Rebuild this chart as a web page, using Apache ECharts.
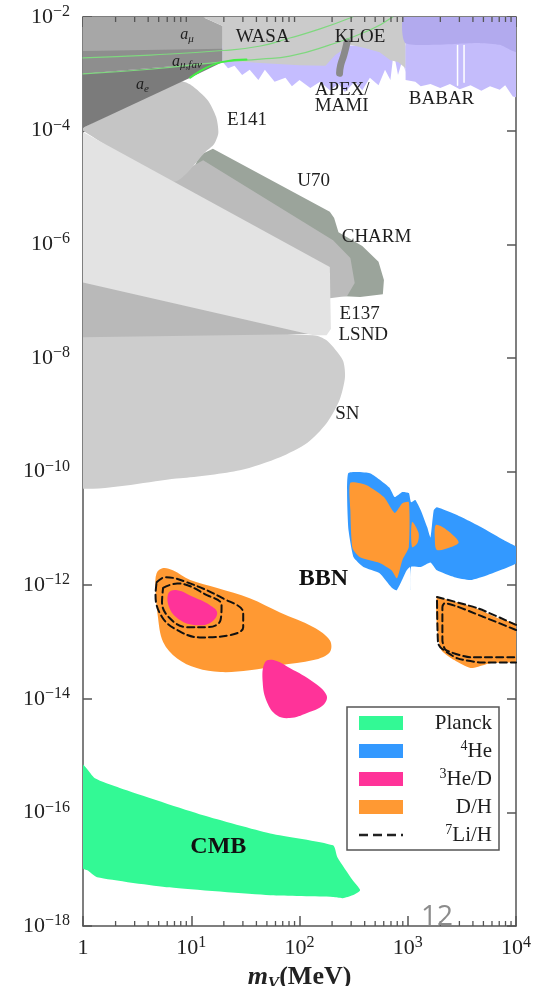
<!DOCTYPE html>
<html><head><meta charset="utf-8">
<script src="https://cdn.jsdelivr.net/npm/echarts@6/dist/echarts.min.js"></script>
<style>html,body{margin:0;padding:0;background:#fff}#c{width:533px;height:986px}</style>
</head><body><div id="c"></div>
<script>
// All shapes as [log10(m_V / MeV), log10(epsilon)]
const aMuRegion   = [[0,-1.9],[0.99,-1.9],[1.29,-2.16],[1.29,-2.58],[0,-2.62]];
const aMuFavBand  = [[0,-2.6],[1.29,-2.56],[1.29,-2.79],[0,-3.0]];
const aeRegion    = [[0,-3.0],[1.29,-2.79],[0.99,-3.07],[0,-3.95]];
const e141Region  = [[0,-3.95],[0.9,-3.14],[1.0,-3.2],[1.15,-3.46],[1.23,-3.76],[1.25,-4.04],[1.21,-4.24],[1.14,-4.36],[0.83,-4.9],[0,-4.0]];
const u70Charm    = [[1.08,-4.43],[1.2,-4.32],[2.28,-5.43],[2.32,-5.54],[2.36,-5.79],[2.58,-6.03],[2.73,-6.31],[2.78,-6.63],[2.77,-6.88],[2.56,-6.93],[2.37,-6.91],[2.28,-6.5],[0.99,-4.8]];
const e141Band    = [[0.75,-4.9],[1.11,-4.52],[2.31,-5.93],[2.47,-6.24],[2.51,-6.68],[2.44,-6.91],[2.28,-6.95],[2.28,-6.5]];
const e137Lsnd    = [[-0.1,-3.92],[2.28,-6.4],[2.29,-7.49],[2.25,-7.6],[2.13,-7.6],[-0.1,-6.63]];
const lowWedge    = [[-0.1,-6.6],[2.13,-7.58],[-0.1,-7.64]];
const snRegion    = [[-0.2,-7.62],[2.13,-7.6],[2.25,-7.69],[2.4,-8.04],[2.42,-8.34],[2.37,-8.74],[2.25,-9.15],[2.07,-9.5],[1.82,-9.75],[1.45,-9.98],[0.9,-10.12],[-0.2,-10.19]];
const apexMami    = [[1.29,-2.5],[2.98,-2.5],[2.98,-2.97],[2.95,-2.76],[2.91,-3.02],[2.87,-2.62],[2.84,-3.11],[2.79,-2.93],[2.73,-3.2],[2.65,-3.07],[2.58,-3.29],[2.51,-3.14],[2.42,-3.32],[2.36,-3.18],[2.28,-3.29],[2.19,-3.14],[2.1,-3.25],[2.0,-3.11],[1.93,-3.22],[1.87,-3.07],[1.77,-3.14],[1.68,-2.93],[1.62,-3.11],[1.54,-2.93],[1.47,-3.02],[1.4,-2.86],[1.34,-2.9],[1.29,-2.79]];
const wasaKloe    = [[0.99,-1.9],[2.98,-1.9],[2.98,-2.9],[2.91,-2.79],[2.84,-2.76],[2.74,-2.62],[2.61,-2.55],[2.47,-2.49],[2.33,-2.67],[2.24,-2.86],[2.0,-2.85],[1.64,-2.81],[1.29,-2.76],[1.29,-2.16]];
const babarLight  = [[2.98,-1.9],[4.1,-1.9],[4.1,-3.46],[3.97,-3.4],[3.9,-3.2],[3.85,-3.28],[3.76,-3.22],[3.68,-3.3],[3.58,-3.2],[3.48,-3.27],[3.39,-3.18],[3.3,-3.25],[3.21,-3.18],[3.12,-3.22],[3.07,-3.14],[2.98,-3.11]];
const babarDark   = [[2.98,-1.9],[4.1,-1.9],[4.1,-2.67],[3.95,-2.58],[3.85,-2.49],[3.67,-2.46],[2.98,-2.46]];
const kloeBar     = [[2.44,-2.44],[2.41,-2.67],[2.38,-2.85],[2.37,-2.99]];
const babarGaps   = [[[3.46,-2.5],[3.46,-3.2]],[[3.52,-2.5],[3.52,-3.15]]];
const aMuLine1    = [[0,-2.72],[0.62,-2.67],[1.29,-2.59],[1.64,-2.51],[1.91,-2.37],[2.19,-2.21],[2.49,-2.0]];
const aMuLine2    = [[0,-3.0],[0.62,-2.92],[1.29,-2.79],[1.64,-2.74],[1.91,-2.69],[2.28,-2.49],[2.65,-2.23],[2.86,-2.0]];
const aMuLine2Hi  = [[0.99,-3.07],[1.29,-2.79],[1.51,-2.75]];
const he4Region   = [[2.45,-10.03],[2.65,-10.03],[2.83,-10.28],[2.88,-10.45],[2.95,-10.36],[3.01,-10.38],[3.03,-10.54],[3.07,-10.5],[3.12,-10.68],[3.18,-10.98],[3.21,-11.16],[3.24,-10.68],[3.27,-10.63],[3.46,-10.77],[3.68,-10.98],[3.89,-11.21],[4.05,-11.38],[4.05,-11.56],[3.93,-11.68],[3.74,-11.82],[3.58,-11.91],[3.43,-11.86],[3.27,-11.74],[3.21,-11.6],[3.12,-11.68],[3.03,-11.68],[3.025,-12.09],[3.02,-11.68],[2.99,-11.74],[2.9,-12.09],[2.85,-12.04],[2.74,-11.79],[2.59,-11.68],[2.5,-11.51],[2.45,-10.98]];
const dhHeart     = [[2.47,-10.2],[2.62,-10.24],[2.78,-10.45],[2.88,-10.73],[2.95,-10.56],[3.01,-10.54],[3.01,-11.33],[2.95,-11.56],[2.9,-11.88],[2.85,-11.74],[2.74,-11.61],[2.56,-11.51],[2.49,-11.35],[2.47,-10.68]];
const dhLobe2     = [[3.04,-10.89],[3.1,-11.08],[3.09,-11.26],[3.04,-11.33]];
const dhLobe3     = [[3.26,-10.94],[3.34,-11.0],[3.47,-11.24],[3.4,-11.33],[3.27,-11.38],[3.25,-11.16]];
const dhRight     = [[3.27,-12.21],[3.37,-12.26],[3.61,-12.39],[3.83,-12.58],[4.05,-12.74],[4.05,-13.32],[3.77,-13.37],[3.58,-13.46],[3.43,-13.32],[3.31,-13.14],[3.27,-12.74]];
const dhLeft      = [[0.68,-11.79],[0.74,-11.7],[0.83,-11.74],[0.99,-11.91],[1.24,-12.05],[1.54,-12.23],[1.82,-12.48],[2.13,-12.74],[2.28,-12.97],[2.28,-13.18],[2.13,-13.32],[1.82,-13.41],[1.54,-13.5],[1.27,-13.53],[1.05,-13.46],[0.87,-13.29],[0.74,-13.0],[0.69,-12.53],[0.67,-12.05]];
const heDInner    = [[0.79,-12.14],[0.87,-12.09],[1.02,-12.21],[1.17,-12.35],[1.24,-12.49],[1.17,-12.67],[1.02,-12.7],[0.9,-12.62],[0.8,-12.41]];
const heDLower    = [[1.68,-13.36],[1.76,-13.32],[1.91,-13.46],[2.13,-13.71],[2.25,-13.94],[2.22,-14.11],[2.07,-14.25],[1.91,-14.34],[1.79,-14.29],[1.7,-14.06],[1.66,-13.71]];
const liLeftInner = [[0.74,-12.05],[0.87,-11.97],[1.15,-12.18],[1.28,-12.35],[1.27,-12.62],[1.15,-12.74],[0.96,-12.74],[0.8,-12.58],[0.73,-12.3],[0.74,-12.05]];
const liLeftOuter = [[0.68,-11.95],[0.76,-11.86],[0.96,-11.95],[1.29,-12.23],[1.48,-12.49],[1.48,-12.74],[1.36,-12.88],[1.08,-12.92],[0.87,-12.79],[0.73,-12.56],[0.67,-12.18],[0.68,-11.95]];
const liRightOuter= [[4.0,-12.7],[3.65,-12.41],[3.27,-12.21],[3.28,-13.02],[3.31,-13.11],[3.46,-13.29],[3.68,-13.36],[4.0,-13.36]];
const liRightInner= [[4.0,-12.79],[3.7,-12.56],[3.34,-12.32],[3.32,-12.39],[3.32,-12.97],[3.35,-13.14],[3.58,-13.27],[4.0,-13.27]];
const cmbRegion   = [[-0.1,-15.0],[0.03,-15.22],[0.11,-15.4],[0.34,-15.57],[1.11,-16.05],[1.73,-16.37],[2.31,-16.58],[2.35,-16.79],[2.49,-17.19],[2.56,-17.37],[2.49,-17.46],[2.4,-17.51],[2.31,-17.49],[1.73,-17.46],[0.8,-17.32],[0.13,-17.14],[0.04,-17.02],[-0.1,-16.89]];

// Text labels placed in data space
const plotLabelText  = ['{i|a}{u|μ}','{i|a}{u|μ,fav}','{i|a}{u|e}','{n|WASA}','{n|KLOE}','{n|APEX/}','{n|MAMI}','{n|BABAR}','{n|E141}','{n|U70}','{n|CHARM}','{n|E137}','{n|LSND}','{n|SN}','{bb|BBN}','{bb|CMB}'];
const plotLabelPos   = [[0.96,-2.32],[0.96,-2.79],[0.55,-3.2],[1.66,-2.35],[2.56,-2.35],[2.14,-3.29],[2.14,-3.57],[3.01,-3.44],[1.33,-3.81],[1.98,-4.89],[2.39,-5.87],[2.37,-7.22],[2.36,-7.59],[2.33,-8.98],[2.22,-11.89],[1.25,-16.6]];
const plotLabelAlign = ['center','center','center','center','center','left','left','left','left','left','left','left','left','left','center','center'];

// Axis ticks
const xTickExp = [0,1,2,3,4];
const xTickBase = ['1','10','10','10','10'];
const xTickSup  = ['','1','2','3','4'];
const yTickExp = [-18,-16,-14,-12,-10,-8,-6,-4,-2];
const yTickSup = ['−18','−16','−14','−12','−10','−8','−6','−4','−2'];
const xMinorTicks = [2,3,4,5,6,7,8,9,20,30,40,50,60,70,80,90,200,300,400,500,600,700,800,900,2000,3000,4000,5000,6000,7000,8000,9000];

// Legend
const legendLabels = ['{t|Planck}','{s|4}{t|He}','{s|3}{t|He/D}','{t|D/H}','{s|7}{t|Li/H}'];
const legendColors = ['#33f995','#3399ff','#ff3399','#ff9933',null];

const F = 'Liberation Serif';
const toVal = arr => arr.map(p => [Math.pow(10, p[0]), Math.pow(10, p[1])]);

function area(name, pts, color, smooth, z) {
  const data = toVal(pts);
  return {type:'custom', name, coordinateSystem:'cartesian2d', silent:true, clip:true, z: z||2,
    data, encode:{x:0,y:1},
    renderItem:(params, api) => params.dataIndex !== 0 ? null : {
      type:'polygon', shape:{points: data.map(d => api.coord(d)), smooth: smooth||0},
      style:{fill: color}}};
}
function curve(name, pts, color, width, type, smooth, z) {
  return {type:'line', name, data: toVal(pts), symbol:'none', smooth: smooth||false, silent:true,
    lineStyle:{color, width, type: type||'solid', cap:'round'}, z: z||4, clip:true};
}

const series = [
  area('SN', snRegion, '#cdcdcd', 0.25),
  area('wedge', lowWedge, '#b9b9b9', 0),
  area('U70/CHARM', u70Charm, '#9ba49b', 0),
  area('E141 band', e141Band, '#bbbbbb', 0),
  area('E141', e141Region, '#c5c5c5', 0.25),
  area('E137/LSND', e137Lsnd, '#e3e3e3', 0),
  area('a_mu', aMuRegion, '#a7a7a7', 0),
  area('a_mu,fav', aMuFavBand, '#8e8e8e', 0),
  area('a_e', aeRegion, '#7b7b7b', 0),
  area('APEX/MAMI', apexMami, '#c5bdff', 0),
  area('WASA/KLOE', wasaKloe, '#cbcbcb', 0),
  area('BABAR', babarLight, '#c4bcfb', 0),
  area('BABAR dark', babarDark, '#b2aaee', 0.2),
  curve('KLOE bar', kloeBar, '#8a8a8a', 7, 'solid', true),
  curve('BABAR gap 1', babarGaps[0], '#ffffff', 1.5),
  curve('BABAR gap 2', babarGaps[1], '#ffffff', 1.5),
  curve('a_mu line 1', aMuLine1, '#7fd87f', 1.2, 'solid', true),
  curve('a_mu line 2', aMuLine2, '#7fd87f', 1.2, 'solid', true),
  curve('a_mu line 2 hi', aMuLine2Hi, '#44ee44', 2, 'solid', true),
  area('⁴He', he4Region, '#3399ff', 0.15, 3),
  area('D/H heart', dhHeart, '#ff9933', 0.2, 3),
  area('D/H lobe 2', dhLobe2, '#ff9933', 0.3, 3),
  area('D/H lobe 3', dhLobe3, '#ff9933', 0.3, 3),
  area('D/H right', dhRight, '#ff9933', 0.2, 3),
  area('D/H', dhLeft, '#ff9933', 0.35, 3),
  area('³He/D inner', heDInner, '#ff3399', 0.4, 3),
  area('³He/D', heDLower, '#ff3399', 0.4, 3),
  curve('⁷Li/H a', liLeftInner, '#111', 2, [7,4], 0.4, 5),
  curve('⁷Li/H b', liLeftOuter, '#111', 2, [7,4], 0.4, 5),
  curve('⁷Li/H c', liRightOuter, '#111', 2, [7,4], 0.2, 5),
  curve('⁷Li/H d', liRightInner, '#111', 2, [7,4], 0.2, 5),
  area('Planck', cmbRegion, '#33f995', 0.2, 3),
  {type:'custom', name:'minor ticks', coordinateSystem:'cartesian2d', silent:true, clip:false, z:10,
    data: xMinorTicks.map(v => [v, 1e-10]),
    renderItem:(params, api) => {
      const v = api.value(0);
      const b = api.coord([v, 1e-18]), t = api.coord([v, 1e-2]);
      const st = {stroke:'#555', lineWidth:1.3};
      return {type:'group', children:[
        {type:'line', shape:{x1:b[0], y1:b[1], x2:b[0], y2:b[1]-5}, style:st},
        {type:'line', shape:{x1:t[0], y1:t[1], x2:t[0], y2:t[1]+5}, style:st}]};
    }},
  {type:'custom', name:'labels', coordinateSystem:'cartesian2d', silent:true, clip:false, z:12,
    data: toVal(plotLabelPos),
    renderItem:(params, api) => {
      const i = params.dataIndex;
      const p = api.coord([api.value(0), api.value(1)]);
      return {type:'text', x:p[0], y:p[1], style:{text: plotLabelText[i], align: plotLabelAlign[i], verticalAlign:'middle',
        fontFamily:F, fontSize:19, fill:'#1e1e1e',
        rich:{
          n:{fontFamily:F, fontSize:19, fill:'#1e1e1e'},
          bb:{fontFamily:F, fontSize:24, fontWeight:'bold', fill:'#111'},
          i:{fontFamily:F, fontSize:16, fontStyle:'italic', fill:'#1e1e1e', lineHeight:18},
          u:{fontFamily:F, fontSize:11, fontStyle:'italic', fill:'#1e1e1e', lineHeight:12, verticalAlign:'bottom'}
        }}};
    }}
];

const tickRich = {
  b:{fontFamily:F, fontSize:22, color:'#222', lineHeight:26},
  s:{fontFamily:F, fontSize:16, color:'#222', lineHeight:17, verticalAlign:'top'}
};
const axLine = {show:true, lineStyle:{color:'#555', width:1.5}};
function xFmt(v) {
  const i = xTickExp.indexOf(Math.round(Math.log10(v)));
  if (i < 0) return '';
  return '{b|' + xTickBase[i] + '}' + (xTickSup[i] ? '{s|' + xTickSup[i] + '}' : '');
}
function yFmt(v) {
  const i = yTickExp.indexOf(Math.round(Math.log10(v)));
  if (i < 0) return '';
  return '{b|10}{s|' + yTickSup[i] + '}';
}

const legendGraphic = [{type:'rect', shape:{x:347, y:707, width:152, height:143}, style:{fill:'#fff', stroke:'#555', lineWidth:1.5}, z:100}];
legendLabels.forEach((lab, i) => {
  const cy = 723 + i * 28;
  if (legendColors[i]) {
    legendGraphic.push({type:'rect', shape:{x:359, y:cy-7, width:44, height:14}, style:{fill:legendColors[i]}, z:101});
  } else {
    legendGraphic.push({type:'line', shape:{x1:359, y1:cy, x2:403, y2:cy}, style:{stroke:'#222', lineWidth:2.5, lineDash:[9,5]}, z:101});
  }
  legendGraphic.push({type:'text', x:492, y:cy, z:101, style:{text:lab, align:'right', verticalAlign:'middle',
    fontFamily:F, fontSize:21, fill:'#1e1e1e',
    rich:{t:{fontFamily:F, fontSize:21, fill:'#1e1e1e', lineHeight:23},
          s:{fontFamily:F, fontSize:14, fill:'#1e1e1e', lineHeight:14, verticalAlign:'top'}}}});
});
legendGraphic.push({type:'text', x:421, y:903, z:110, style:{text:'12', fontFamily:'Open Sans', fontSize:28, fill:'#8c8c8c'}});

const option = {
  animation:false,
  backgroundColor:'#fff',
  grid:{left:83, right:17, top:17, bottom:60, containLabel:false, outerBoundsMode:'none'},
  xAxis:[
    {type:'log', logBase:10, min:1, max:1e4, interval:1, position:'bottom',
      axisLine:axLine, splitLine:{show:false}, minorTick:{show:false},
      axisTick:{show:true, inside:true, length:10, lineStyle:{color:'#555', width:1.5}},
      axisLabel:{margin:9, formatter:xFmt, rich:tickRich, showMinLabel:true, showMaxLabel:true},
      name:'{m|m}{v|V}{t|(MeV)}', nameLocation:'middle', nameGap:35,
      nameTextStyle:{rich:{
        m:{fontFamily:F, fontSize:26, fontWeight:'bold', fontStyle:'italic', color:'#222', lineHeight:30},
        v:{fontFamily:F, fontSize:17, fontWeight:'bold', fontStyle:'italic', color:'#222', lineHeight:18, verticalAlign:'bottom'},
        t:{fontFamily:F, fontSize:26, fontWeight:'bold', color:'#222', lineHeight:30}}}},
    {type:'log', logBase:10, min:1, max:1e4, interval:1, position:'top',
      axisLine:axLine, splitLine:{show:false}, axisLabel:{show:false},
      axisTick:{show:true, inside:true, length:10, lineStyle:{color:'#555', width:1.5}}}
  ],
  yAxis:[
    {type:'log', logBase:10, min:1e-18, max:1e-2, interval:2, splitNumber:8, position:'left',
      axisLine:axLine, splitLine:{show:false}, minorTick:{show:false},
      axisTick:{show:true, inside:true, length:9, lineStyle:{color:'#555', width:1.5}},
      axisLabel:{margin:13, formatter:yFmt, rich:tickRich, showMinLabel:true, showMaxLabel:true}},
    {type:'log', logBase:10, min:1e-18, max:1e-2, interval:2, splitNumber:8, position:'right',
      axisLine:axLine, splitLine:{show:false}, axisLabel:{show:false},
      axisTick:{show:true, inside:true, length:9, lineStyle:{color:'#555', width:1.5}}}
  ],
  graphic: legendGraphic,
  series
};
const chart = echarts.init(document.getElementById('c'), null, {renderer:'canvas'});
chart.setOption(option);
</script></body></html>
